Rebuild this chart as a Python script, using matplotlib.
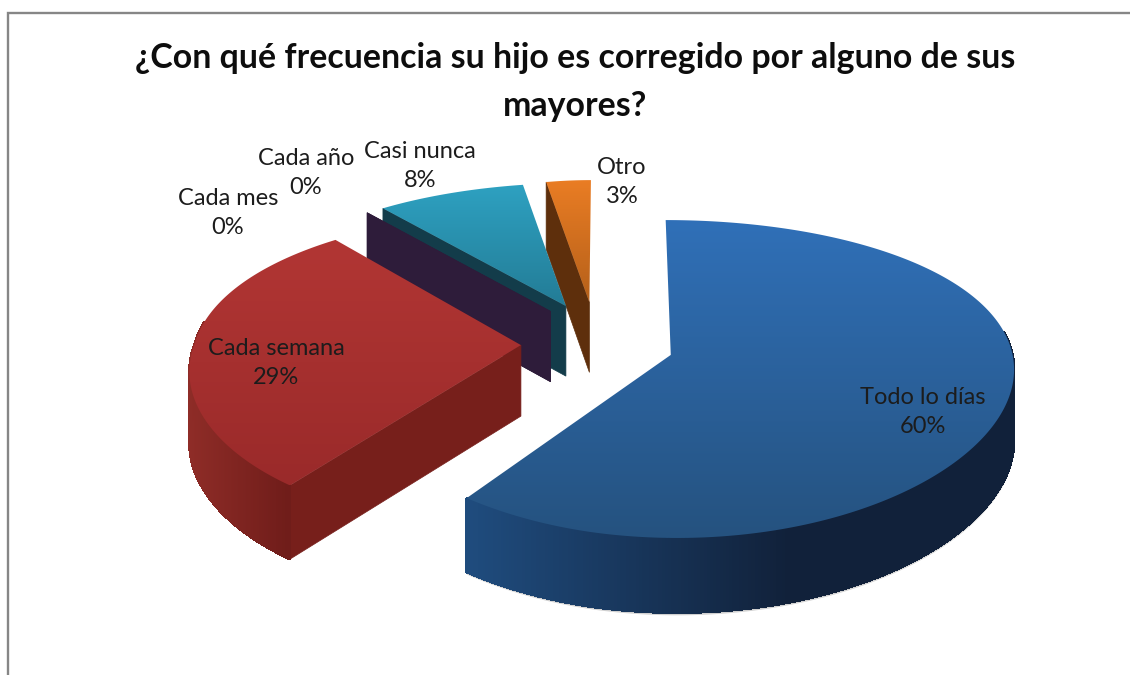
import numpy as np
import matplotlib
matplotlib.use("Agg")
import matplotlib.pyplot as plt
from matplotlib.patches import Polygon
from matplotlib.collections import PolyCollection
from matplotlib.colors import to_rgb, LinearSegmentedColormap

# ---- data ----
categories = ["Todo lo días", "Cada semana", "Cada mes", "Cada año", "Casi nunca", "Otro"]
values = [60, 29, 0, 0, 8, 3]
percent_labels = ["60%", "29%", "0%", "0%", "8%", "3%"]
title = "¿Con qué frecuencia su hijo es corregido por alguno de sus\nmayores?"

# ---- style ----
top_colors = {
    "Todo lo días": ("#3070b8", "#25527f"),
    "Cada semana": ("#b23634", "#9a2a2a"),
    "Cada mes": ("#4d3a6e", "#3e2d5a"),
    "Cada año": ("#4d3a6e", "#3e2d5a"),
    "Casi nunca": ("#2ea1c1", "#237c96"),
    "Otro": ("#ea7d24", "#b5601a"),
}
rim_colors = {
    "Todo lo días": ("#1f4c7e", "#11213a"),
    "Cada semana": ("#8e2c27", "#701d1a"),
    "Cada mes": ("#2e1c3a", "#2e1c3a"),
    "Cada año": ("#2e1c3a", "#2e1c3a"),
    "Casi nunca": ("#133c4a", "#133c4a"),
    "Otro": ("#5e2f0c", "#5e2f0c"),
}
cut_colors = {
    "Todo lo días": "#1f4c7e",
    "Cada semana": "#771f1b",
    "Cada mes": "#2e1c3a",
    "Cada año": "#2e1c3a",
    "Casi nunca": "#133c4a",
    "Otro": "#5e2f0c",
}
label_pos = {
    "Todo lo días": (923, 412),
    "Cada semana": (276, 363),
    "Cada mes": (228, 213),
    "Cada año": (306, 173),
    "Casi nunca": (420, 166),
    "Otro": (622, 182),
}

# ---- projection of the tilted pie ----
CX, CY, RX, RY = 596, 344, 340, 152
PERSP, EXPLODE, DEPTH = 0.15, 0.23, 71


def project(gx, gy):
    gx, gy = np.asarray(gx, float), np.asarray(gy, float)
    p = 1 / (1 + PERSP * gy)
    upper = 10 * gy * np.clip(-gx / 0.2, 0, 1)
    lower = 26 * gy * np.clip((-gx - 0.368) / 0.45, 0, 1)
    shear = np.where(gy > 0, upper, lower)
    x = np.where(gx < 0, CX + RX * gx * np.sqrt(p) * 0.96, CX + RX * gx * np.sqrt(p)) + shear
    y = CY - RY * gy * p
    return x, y, DEPTH * p ** 0.3


fig = plt.figure(figsize=(11.3, 6.75), dpi=100)
ax = fig.add_axes([0, 0, 1, 1])
ax.set_xlim(0, 1130)
ax.set_ylim(675, 0)
ax.axis("off")

ax.plot([8, 8, 1130], [675, 13, 13], color="#868686", lw=1.7, zorder=1, solid_joinstyle="miter")

total = sum(values)
spans = np.array(values) / total * 360
starts = np.concatenate([[0], np.cumsum(spans)[:-1]])
order = np.argsort([-np.cos(np.radians(s + w / 2)) for s, w in zip(starts, spans)])

z = 2
for i in order:
    name = categories[i]
    a0, w = starts[i], spans[i]
    a1 = a0 + w
    mid = np.radians(a0 + w / 2)
    ox, oy = EXPLODE * np.sin(mid), EXPLODE * np.cos(mid)
    if oy > 0:
        oy *= 1.25
    th = np.radians(np.linspace(a0, a1, max(2, int(w * 2) + 2)))
    rimx, rimy, rimd = project(ox + np.sin(th), oy + np.cos(th))
    apx, apy, apd = project(ox, oy)
    apx, apy, apd = float(apx), float(apy), float(apd)

    # soft shadow under the large front slices
    if w > 150:
        front = np.cos(th) < 0.2
        sx, sy = rimx[front], rimy[front] + rimd[front] + 2
        ax.fill_between(sx, sy - 6, sy, color="#bdbdbd", alpha=0.7, lw=0, zorder=z)
        z += 1

    # cut faces that face the viewer
    visible = [(0, np.sin(np.radians(a0)) < -1e-6), (-1, np.sin(np.radians(a1)) > 1e-6)]
    for k, show in visible:
        if show:
            ax.add_patch(Polygon([(apx, apy), (rimx[k], rimy[k]),
                                  (rimx[k], rimy[k] + rimd[k]), (apx, apy + apd)],
                                 closed=True, fc=cut_colors[name], ec=cut_colors[name], lw=0.5, zorder=z))
            z += 1

    # outer rim wall, only where it faces the viewer
    quads, cols = [], []
    c0, c1 = np.array(to_rgb(rim_colors[name][0])), np.array(to_rgb(rim_colors[name][1]))
    span_x = max(rimx.max() - rimx.min(), 1)
    for k in range(len(th) - 1):
        if np.cos(th[k]) < 0.15 or np.cos(th[k + 1]) < 0.15:
            quads.append([(rimx[k], rimy[k]), (rimx[k + 1], rimy[k + 1]),
                          (rimx[k + 1], rimy[k + 1] + rimd[k + 1]), (rimx[k], rimy[k] + rimd[k])])
            t = (rimx[k] - rimx.min()) / span_x
            t = min(1, t * (1.7 if w > 150 else 1.5))
            cols.append(c0 + (c1 - c0) * t)
    if quads:
        ax.add_collection(PolyCollection(quads, facecolors=cols, edgecolors=cols,
                                         linewidths=1.0, antialiaseds=False, zorder=z))
        z += 1

    # top surface with vertical gradient
    if w > 0:
        pts = np.vstack([[apx, apy], np.column_stack([rimx, rimy])])
        clip = Polygon(pts, closed=True, fc="none", ec="none", transform=ax.transData)
        ax.add_patch(clip)
        cmap = LinearSegmentedColormap.from_list("g", list(top_colors[name]))
        im = ax.imshow(np.linspace(0, 1, 256).reshape(-1, 1), cmap=cmap, aspect="auto",
                       extent=(pts[:, 0].min(), pts[:, 0].max(), pts[:, 1].max(), pts[:, 1].min()),
                       zorder=z, interpolation="bilinear")
        im.set_clip_path(clip)
        z += 1

ax.set_xlim(0, 1130)
ax.set_ylim(675, 0)

font = ["Lato", "DejaVu Sans"]
for name, pct in zip(categories, percent_labels):
    x, y = label_pos[name]
    ax.text(x, y, f"{name}\n{pct}", ha="center", va="center", fontsize=17,
            family=font, color="#1c1c1c", linespacing=1.43, zorder=100)

ax.text(575, 82, title, ha="center", va="center", fontsize=24.4, fontweight="bold",
        family=font, color="#0d0d0d", linespacing=1.63, zorder=100)

fig.savefig("out.png", dpi=100, facecolor="white")
